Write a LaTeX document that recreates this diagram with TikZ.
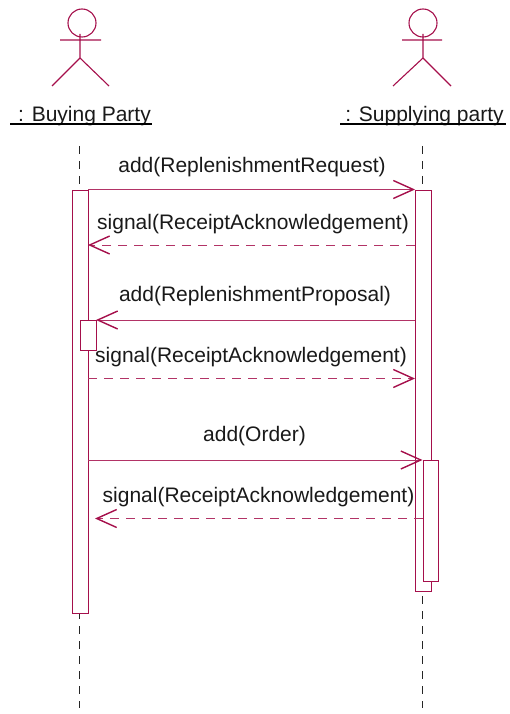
\documentclass[tikz,border=0pt]{standalone}
\usepackage{fontspec}
\setmainfont{Liberation Sans}
\usetikzlibrary{arrows.meta}
\definecolor{umlred}{HTML}{A50F4B}
\tikzset{
  actorline/.style={draw=umlred,line width=1.1pt},
  lifeline/.style={draw=black!85,line width=0.9pt,dash pattern=on 8pt off 7pt},
  activation/.style={draw=umlred,line width=1.3pt,fill=white,rectangle,inner sep=0pt,anchor=north west},
  msg/.style={draw=umlred!85,line width=0.9pt,-{Straight Barb[length=20pt,width=18pt,line width=1.4pt,umlred]}},
  reply/.style={msg,dash pattern=on 9pt off 7pt},
  lbl/.style={font=\fontsize{21}{24}\selectfont,text=black!90,inner sep=0pt,anchor=base},
  actorname/.style={lbl},
  headnode/.style={circle,draw=umlred,line width=1.1pt,minimum size=28pt,inner sep=0pt}
}
\begin{document}
\begin{tikzpicture}[x=1pt,y=-1pt]
\useasboundingbox (0,0) rectangle (509,714);
% actors
\node[headnode] (headA) at (82,23) {};
\node[headnode] (headB) at (423,23) {};
\coordinate (hipA) at (80,58); \coordinate (hipB) at (423,58);
\draw[actorline] (80,34) -- (hipA) -- (52,86) (hipA) -- (109,86) (60,40) -- (101,40);
\draw[actorline] (423,34) -- (hipB) -- (393,86) (hipB) -- (451,86) (402,40) -- (442,40);
\node[actorname] (nameA) at (84.5,122) {: Buying Party};
\node[actorname] (nameB) at (424.5,122) {: Supplying party};
\draw[black,line width=1.3pt] (10,124) -- (152,124);
\draw[black,line width=1.3pt] (340,124) -- (506,124);
% lifelines
\coordinate (lifeAtop) at (79.5,146); \coordinate (lifeAbot) at (79.5,708);
\coordinate (lifeBtop) at (422.5,146); \coordinate (lifeBbot) at (422.5,708);
\draw[lifeline] (lifeAtop) -- (lifeAbot);
\draw[lifeline] (lifeBtop) -- (lifeBbot);
% activations
\node[activation,minimum width=16pt,minimum height=423pt] (actA) at (72,189.5) {};
\node[activation,minimum width=16pt,minimum height=401pt] (actB) at (415,189.5) {};
\node[activation,minimum width=16pt,minimum height=30pt] (actA2) at (80,320) {};
\node[activation,minimum width=15.5pt,minimum height=121pt] (actB2) at (422.5,460) {};
% message end points
\coordinate (m1a) at (88,189.5); \coordinate (m1b) at (415,189.5);
\coordinate (m2a) at (88,245); \coordinate (m2b) at (415,245);
\coordinate (m3a) at (96,320); \coordinate (m3b) at (415,320);
\coordinate (m4a) at (88,378.5); \coordinate (m4b) at (415,378.5);
\coordinate (m5a) at (88,460); \coordinate (m5b) at (422.5,460);
\coordinate (m6a) at (95,518.5); \coordinate (m6b) at (422.5,518.5);
\draw[msg] (m1a) -- (m1b);
\draw[reply] (m2b) -- (m2a);
\draw[msg] (m3b) -- (m3a);
\draw[reply] (m4a) -- (m4b);
\draw[msg] (m5a) -- (m5b);
\draw[reply] (m6b) -- (m6a);
% labels
\node[lbl] (l1) at (252,173) {add(ReplenishmentRequest)};
\node[lbl] (l2) at (253,229) {signal(ReceiptAcknowledgement)};
\node[lbl] (l3) at (255,301) {add(ReplenishmentProposal)};
\node[lbl] (l4) at (251,362) {signal(ReceiptAcknowledgement)};
\node[lbl] (l5) at (254.5,441) {add(Order)};
\node[lbl] (l6) at (258.5,502) {signal(ReceiptAcknowledgement)};
\end{tikzpicture}
\end{document}
